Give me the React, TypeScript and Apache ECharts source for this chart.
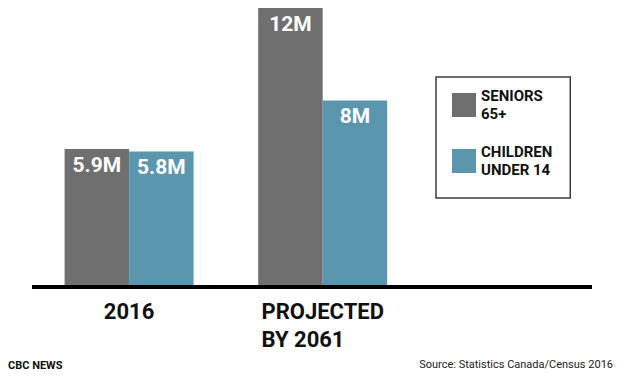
import React, { useEffect, useRef } from 'react';
import * as echarts from 'echarts';

const categories = ['2016', 'PROJECTED\nBY 2061'];
const seniorsValues = [5.9, 12];
const childrenValues = [5.8, 8];
const seriesNames = ['SENIORS\n65+', 'CHILDREN\nUNDER 14'];
const seriesColors = ['#6f6f6f', '#5b96af'];
const footerLeft = 'CBC NEWS';
const footerRight = 'Source: Statistics Canada/Census 2016';

const FONT = 'Roboto, "Noto Sans", sans-serif';

export default function App() {
  const ref = useRef<HTMLDivElement>(null);

  useEffect(() => {
    document.body.style.margin = '0';
    if (!ref.current) return;
    const chart = echarts.init(ref.current, undefined, { renderer: 'svg' });

    const barLabel = {
      show: true,
      position: 'insideTop',
      distance: 5,
      formatter: (p: any) => `${p.value}M`,
      color: '#ffffff',
      fontFamily: FONT,
      fontWeight: 'bold',
      fontSize: 21,
      textBorderWidth: 0,
    };

    const option: any = {
      animation: false,
      backgroundColor: '#ffffff',
      textStyle: { fontFamily: FONT },
      title: [
        {
          text: footerLeft,
          left: 8,
          top: 360,
          padding: 0,
          textStyle: { fontFamily: FONT, fontSize: 11, fontWeight: 'bold', color: '#111' },
        },
        {
          text: footerRight,
          right: 7,
          top: 359,
          padding: 0,
          textStyle: { fontFamily: FONT, fontSize: 11, fontWeight: 'normal', color: '#222' },
        },
      ],
      legend: {
        orient: 'vertical',
        left: 436,
        top: 77,
        padding: [6, 18, 15, 16],
        itemGap: 12,
        itemWidth: 24,
        itemHeight: 24,
        icon: 'rect',
        borderColor: '#3d3d3d',
        borderWidth: 1.5,
        selectedMode: false,
        data: seriesNames,
        textStyle: {
          fontFamily: FONT,
          fontSize: 15,
          fontWeight: 'bold',
          lineHeight: 18,
          color: '#111',
          padding: [8, 0, 0, 0],
        },
      },
      grid: { left: 32.3, right: 200.5, top: 8, bottom: 91.5, containLabel: false },
      xAxis: {
        type: 'category',
        data: categories,
        axisLine: { show: false },
        axisTick: { show: false },
        axisLabel: {
          margin: 12,
          interval: 0,
          formatter: (v: string) =>
            v
              .split('\n')
              .map((l) => `{l|${l}}`)
              .join('\n'),
          rich: {
            l: {
              align: 'left',
              fontFamily: FONT,
              fontSize: 22,
              fontWeight: 'bold',
              lineHeight: 28,
              color: '#111',
            },
          },
        },
      },
      yAxis: {
        type: 'value',
        min: 0,
        max: 12,
        show: false,
        splitLine: { show: false },
      },
      series: [
        {
          name: seriesNames[0],
          type: 'bar',
          data: seniorsValues,
          barWidth: 64.5,
          barGap: '0%',
          itemStyle: { color: seriesColors[0] },
          label: barLabel,
        },
        {
          name: seriesNames[1],
          type: 'bar',
          data: childrenValues,
          barWidth: 64.5,
          barGap: '0%',
          itemStyle: { color: seriesColors[1] },
          label: barLabel,
        },
      ],
      graphic: [
        {
          type: 'line',
          z: 100,
          shape: { x1: 32, y1: 287, x2: 592, y2: 287 },
          style: { stroke: '#000000', lineWidth: 4 },
        },
      ],
    };

    chart.setOption(option);
    return () => {
      chart.dispose();
    };
  }, []);

  return <div ref={ref} style={{ width: 620, height: 377 }} />;
}
